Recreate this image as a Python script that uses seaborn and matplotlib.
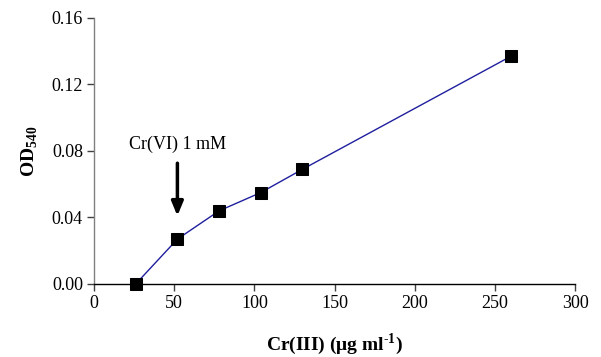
import pandas as pd
import matplotlib.pyplot as plt
import seaborn as sns

# Data
cr3 = [26, 52, 78, 104, 130, 260]
od540 = [0.000, 0.027, 0.044, 0.055, 0.069, 0.137]
x_ticks = [0, 50, 100, 150, 200, 250, 300]
y_ticks = [0.00, 0.04, 0.08, 0.12, 0.16]

df = pd.DataFrame({"Cr3": cr3, "OD": od540})

sns.set_style("white")
plt.rcParams['font.family'] = ['Liberation Serif', 'DejaVu Serif']
plt.rcParams['mathtext.fontset'] = 'custom'
plt.rcParams['mathtext.rm'] = 'Liberation Serif'
plt.rcParams['mathtext.bf'] = 'Liberation Serif:bold'
plt.rcParams['xtick.bottom'] = True
plt.rcParams['ytick.left'] = True
plt.rcParams['text.color'] = 'black'
plt.rcParams['axes.labelcolor'] = 'black'

fig = plt.figure(figsize=(6.01, 3.57), dpi=100)
ax = fig.add_axes([0.1564, 0.2045, 0.8006, 0.7451])

sns.lineplot(data=df, x="Cr3", y="OD", ax=ax, color="#1f1f9e", linewidth=1.0,
             marker="s", markersize=9, markerfacecolor="black",
             markeredgecolor="black")

ax.set_xlim(0, 300)
ax.set_ylim(0, 0.16)
ax.set_xticks(x_ticks)
ax.set_yticks(y_ticks)
ax.set_yticklabels([f"{v:.2f}" for v in y_ticks])
ax.tick_params(axis="both", labelsize=13, direction="out", length=5,
               width=1, color="#404040", labelcolor="black", pad=3,
               bottom=True, left=True)

for s in ["top", "right"]:
    ax.spines[s].set_visible(False)
ax.spines["left"].set_color("#808080")
ax.spines["bottom"].set_color("black")
ax.spines["left"].set_linewidth(1)
ax.spines["bottom"].set_linewidth(1)
for line in ax.lines:
    line.set_clip_on(False)

ax.set_xlabel(r"Cr(III) ($\mathbf{\mu}$g ml$^{\mathbf{" + "\u2010" + r"1}}$)",
              fontsize=14, fontweight="bold", labelpad=14)
ax.set_ylabel(r"OD$_{\mathbf{540}}$", fontsize=14, fontweight="bold", labelpad=8)

ax.annotate("Cr(VI) 1 mM", xy=(52, 0.041), xytext=(52, 0.084),
            ha="center", va="center", fontsize=13,
            arrowprops=dict(arrowstyle="-|>,head_length=0.6,head_width=0.25",
                            color="black", lw=2.5,
                            shrinkA=5, shrinkB=0, mutation_scale=14))

plt.savefig("out.png", dpi=100)
